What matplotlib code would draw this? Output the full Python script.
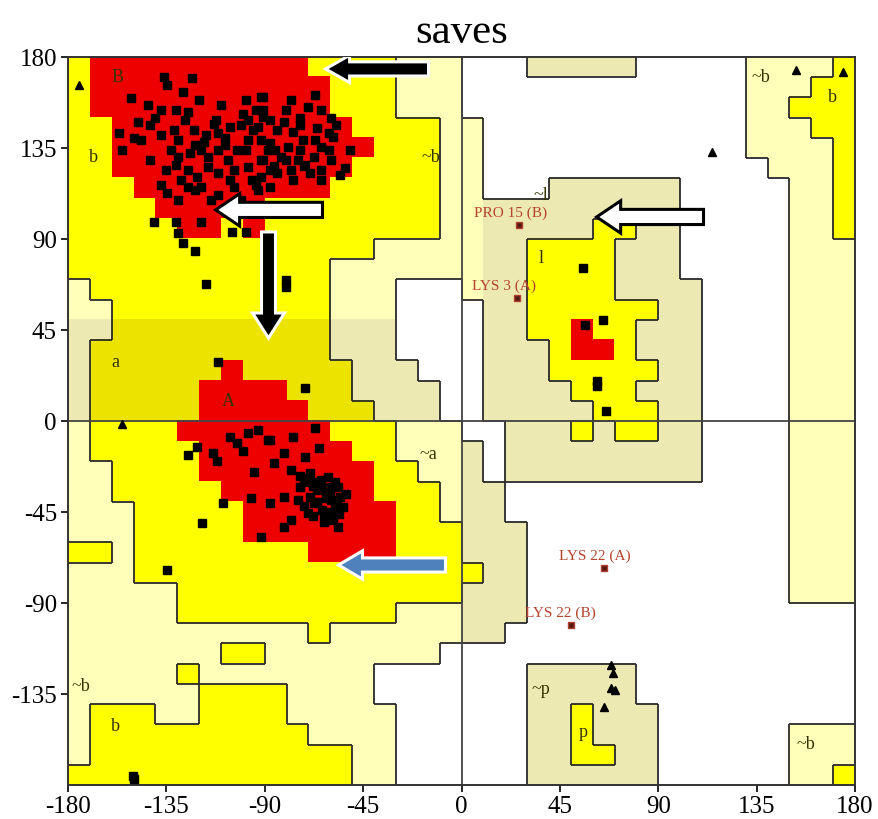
import matplotlib
matplotlib.use("Agg")
import matplotlib.pyplot as plt
import numpy as np
from matplotlib.colors import ListedColormap
from matplotlib.collections import LineCollection
from matplotlib.patches import FancyArrow

plt.rcParams['font.family'] = ['Liberation Serif', 'DejaVu Serif']
plt.rcParams['axes.unicode_minus'] = False

# region map, 10 degree cells; rows from psi=180 (top) down, columns from phi=-180
# R core, Y allowed, D allowed (darker tint), C generous, K generous (khaki tint), W disallowed
regions = [
    "YRRRRRRRRRRYYYYCCC" + "WWWKKKKKWWWWWCCCCY",
    "YRRRRRRRRRRRYYYCCC" + "WWWWWWWWWWWWWCCCYY",
    "YRRRRRRRRRRRYYYCCC" + "WWWWWWWWWWWWWCCYYY",
    "YYRRRRRRRRRRRYYYYC" + "CWWWWWWWWWWWWCCCYY",
    "YYRRRRRRRRRRRRYYYC" + "CWWWWWWWWWWWWCCCCY",
    "YYRRRRRRRRRRRYYYYC" + "CWWWWWWWWWWWWWCCCY",
    "YYYRRRRRRRRRYYYYYC" + "CWWWKKKKKKWWWWWCCY",
    "YYYYRRRRRYYYYYYYYC" + "CKKKKKKKKKWWWWWCCY",
    "YYYYYRRYRYYYYYYYYC" + "CKKKKKYYKKWWWWWCCY",
    "YYYYYYYYYYYYYYCCCC" + "CKKYYYYKKKWWWWWCCC",
    "YYYYYYYYYYYYCCCCCC" + "CKKYYYYKKKWWWWWCCC",
    "CYYYYYYYYYYYCCCWWW" + "CKKYYYYKKKKWWWWCCC",
    "CCYYYYYYYYYYCCCWWW" + "WKKYYYYYYKKWWWWCCC",
    "KKDDDDDDDDDDKKKWWW" + "WKKYYRYYKKKWWWWCCC",
    "KDDDDDDDDDDDKKKWWW" + "WKKKYRRYKKKWWWWCCC",
    "KDDDDDDRDDDDDKKKWW" + "WKKKYYYYYKKWWWWCCC",
    "KDDDDDRRRRDDDKKKKW" + "WKKKKYYYKKKWWWWCCC",
    "KDDDDDRRRRRDDDKKKW" + "WKKKKKYYYKKWWWWCCC",
    "CYYYYRRRRRRRYYYCCC" + "WWKKKYKYYKKWWWWCCC",
    "CYYYYYRRRRRRRYYCCC" + "KWKKKKKKKKKWWWWCCC",
    "CCYYYYRRRRRRRRYYCC" + "KWKKKKKKKKKWWWWCCC",
    "CCYYYYYRRRRRRRYYYC" + "KKWWWWWWWWWWWWWCCC",
    "CCCYYYYYRRRRRRRYYC" + "KKWWWWWWWWWWWWWCCC",
    "CCCYYYYYRRRRRRRYYY" + "KKKWWWWWWWWWWWWCCC",
    "YYCYYYYYYYYRRRRYYY" + "KKKWWWWWWWWWWWWCCC",
    "CCCYYYYYYYYYYYYYYY" + "YKKWWWWWWWWWWWWCCC",
    "CCCCCYYYYYYYYYYYYY" + "KKKWWWWWWWWWWWWCCC",
    "CCCCCYYYYYYYYYYCCC" + "KKKWWWWWWWWWWWWWWW",
    "CCCCCCCCCCCYCCCCCC" + "KKWWWWWWWWWWWWWWWW",
    "CCCCCCCYYCCCCCCCCW" + "WWWWWWWWWWWWWWWWWW",
    "CCCCCYCCCCCCCCWWWW" + "WWWKKKKKWWWWWWWWWW",
    "CCCCCCYYYYCCCCWWWW" + "WWWKKKKKWWWWWWWWWW",
    "CYYYCCYYYYCCCCCWWW" + "WWWKKYKKKWWWWWWWWW",
    "CYYYYYYYYYYCCCCWWW" + "WWWKKYKKKWWWWWWCCC",
    "CYYYYYYYYYYYYCCWWW" + "WWWKKYYKKWWWWWWCCC",
    "YYYYYYYYYYYYYCCWWW" + "WWWKKKKKKWWWWWWCCY",
]
codes = "WCKDYR"
region_colors = ['#FFFFFF', '#FFFFBA', '#EDE9B2', '#ECE400', '#FFFF00', '#EE0000']
levels = {'W': 0, 'C': 1, 'K': 1, 'D': 2, 'Y': 2, 'R': 3}

# residues in core regions (phi, psi)
core_phi = [-136.3, -123.1, -134.5, -127.6, -151.4, -120.3, -143.6, -110.2, -137.7, -91.9,
            -130.8, -124.9, -148.2, -156.9, -150.0, -155.1, -137.7, -131.7, -129.9, -122.6,
            -129.5, -124.0, -119.4, -116.2, -111.6, -107.0, -102.5, -97.9, -95.2, -90.6,
            -97.9, -105.7, -111.6, -125.3, -120.8, -116.2, -111.6, -104.3, -97.9, -91.9,
            -88.7, -134.5, -129.9, -125.3, -119.4, -111.2, -104.3, -140.9, -130.8, -129.9,
            -119.4, -104.8, -91.0, -78.2, -66.8, -70.0, -90.6, -81.4, -73.7, -59.9,
            -93.3, -84.2, -76.9, -65.9, -60.8, -87.4, -79.6, -72.3, -64.5, -58.6,
            -90.6, -82.8, -75.0, -67.7, -60.8, -53.1, -91.9, -84.2, -76.9, -69.1,
            -64.5, -87.4, -93.3, -88.7, -117.1, -80.1, -80.1, -111.6, -71.8, -98.4,
            -127.6, -121.7, -113.0, -100.0, -86.0, -72.0, -118.0, -108.0, -96.0, -140.0,
            -142.3, -135.4, -128.5, -121.7, -114.8, -108.0, -101.1, -94.2, -87.4, -80.5,
            -73.7, -66.8, -59.9, -55.4, -50.8, -142.3, -146.8, -133.1, -126.3, -117.1,
            -108.0, -101.1, -94.2, -87.4, -80.5, -73.7, -64.5, -57.6, -137.7, -130.8,
            -121.7, -112.5, -105.7, -98.8, -91.9, -85.1, -78.2, -71.4, -64.5, -98.8,
            -125.3, -120.8, -113.9, -108.9, -96.5, -118.5, -91.9, -134.5, -105.7, -97.9,
            -88.7, -102.5, -66.8, -76.9, -87.4, -93.3, -65.4, -71.4, -81.4, -86.0,
            -78.2, -69.1, -61.3, -56.7, -65.9, -73.7, -81.4, -87.4, -75.0, -67.7,
            -59.9, -55.4, -63.1, -70.4, -78.2, -81.4, -58.6, -56.7, -64.5, -59.9,
            -69.1, -54.0, -62.0, -66.0, -58.0, -60.0, -64.0, -68.0, -56.0, -72.0,
            -62.0, -58.0, -66.0, -61.0, -62.0, -60.0, -66.0, -70.0, -74.0, -57.0,
            -53.0, -63.0, -68.0, -72.0, -112.0, -100.0, -95.0, -150.5, -149.6]
core_psi = [170.1, 169.6, 166.2, 162.7, 159.7, 158.8, 156.3, 156.3, 153.8, 160.2,
            153.8, 152.8, 147.9, 142.4, 140.0, 134.0, 141.4, 143.9, 139.0, 143.9,
            130.6, 132.5, 134.0, 130.6, 134.0, 129.1, 134.0, 139.0, 143.9, 150.3,
            148.9, 145.4, 142.4, 124.1, 120.7, 125.6, 122.7, 124.1, 125.6, 129.1,
            134.0, 112.8, 109.3, 115.7, 115.7, 111.8, 115.7, 98.4, 98.4, 93.0,
            98.4, 93.5, 160.2, 158.8, 161.2, 155.3, 153.8, 147.9, 149.9, 149.9,
            145.4, 143.9, 142.9, 144.9, 142.4, 137.5, 135.5, 139.0, 135.5, 140.5,
            129.1, 130.6, 129.1, 130.6, 134.0, 125.1, 120.7, 122.7, 119.2, 122.7,
            119.2, 115.7, 114.2, 91.0, 67.8, 69.7, 66.3, 29.2, 16.3, 93.5,
            88.0, 84.1, 147.0, 152.0, 126.0, 126.0, 138.0, 140.0, 119.0, 150.0,
            129.1, 124.1, 119.2, 114.2, 109.3, 104.4, 109.3, 116.7, 124.1, 129.1,
            134.0, 139.0, 129.1, 121.7, 134.0, 146.4, 139.0, 134.0, 148.9, 141.4,
            136.5, 146.4, 153.8, 148.9, 153.8, 146.4, 153.8, 146.4, 116.7, 126.6,
            136.5, 148.9, 119.2, 134.0, 139.0, 134.0, 124.1, 126.6, 124.1, 158.8,
            -16.8, -12.9, -15.8, -40.6, -38.1, -50.4, -57.4, -73.7, -7.9, -5.9,
            -9.4, -10.9, -3.5, -7.9, -9.4, -4.5, -13.4, -17.8, -15.8, -20.8,
            -24.2, -25.7, -27.7, -32.6, -34.1, -32.6, -37.6, -40.6, -39.1, -40.6,
            -39.1, -37.6, -45.5, -45.5, -49.0, -52.4, -49.0, -52.4, -29.2, -32.6,
            -37.6, -42.5, -38.0, -30.0, -42.0, -36.0, -44.0, -32.0, -46.0, -28.0,
            -34.0, -30.0, -40.0, -47.0, -33.0, -45.0, -40.0, -30.0, -27.0, -40.0,
            -36.0, -50.0, -47.0, -42.0, -20.0, -15.0, -25.0, -175.6, -177.0]

# other non-glycine residues
other_phi = [55.4, 56.3, 64.5, 61.8, 62.2, 66.3]
other_psi = [75.7, 47.5, 50.0, 19.8, 17.3, 4.9]

# flagged residues
flag_names = ["PRO 15 (B)", "LYS 3 (A)", "LYS 22 (A)", "LYS 22 (B)"]
flag_phi = [26.5, 25.6, 65.4, 49.9]
flag_psi = [96.9, 60.8, -72.7, -100.9]

# glycines
gly_phi = [-175.2, -155.1, 153.2, 174.7, 114.4, 68.6, 69.1, 68.2, 70.0, 65.4]
gly_psi = [166.2, -1.5, 173.6, 172.6, 133.0, -120.7, -124.6, -132.0, -133.0, -141.4]

# region labels
region_labels = ["B", "b", "~b", "~l", "l", "a", "A", "~a", "~b", "b", "~p", "p", "~b", "b", "~b"]
label_phi = [-157.4, -168.3, -14.2, 36.1, 36.6, -158.3, -106.6, -15.1, 136.8, 169.7,
             36.1, 55.8, -174.3, -158.3, 157.4]
label_psi = [170.1, 130.1, 130.1, 111.3, 80.6, 28.7, 9.4, -16.8, 170.1, 160.2,
             -133.0, -153.8, -131.1, -151.3, -160.2]

ticks = [-180, -135, -90, -45, 0, 45, 90, 135, 180]

fig = plt.figure(figsize=(8.79, 8.19), dpi=100)
ax = fig.add_axes([0.0774, 0.0415, 0.8953, 0.8889])

grid = np.array([[codes.index(ch) for ch in row] for row in regions])
ax.imshow(grid, cmap=ListedColormap(region_colors), vmin=-0.5, vmax=5.5,
          extent=[-180, 180, -180, 180], aspect='auto', interpolation='nearest', zorder=0)

# boundary lines between allowed / generous / disallowed regions
lev = np.vectorize(lambda k: levels[codes[k]])(grid)
segs = []
n = len(regions)
for r in range(n):
    for c in range(n):
        if c + 1 < n:
            a, b = lev[r, c], lev[r, c + 1]
            if a != b and min(a, b) < 2:
                x = -180 + 10 * (c + 1)
                segs.append([(x, 180 - 10 * (r + 1)), (x, 180 - 10 * r)])
        if r + 1 < n:
            a, b = lev[r, c], lev[r + 1, c]
            if a != b and min(a, b) < 2:
                y = 180 - 10 * (r + 1)
                segs.append([(-180 + 10 * c, y), (-170 + 10 * c, y)])
ax.add_collection(LineCollection(segs, colors='#2a2a2a', linewidths=1.3, zorder=1))

ax.axhline(0, color='#444444', lw=1.3, zorder=1)
ax.axvline(0, color='#444444', lw=1.3, zorder=1)

ax.plot(core_phi, core_psi, 's', color='black', ms=5.8, zorder=3)
ax.plot(other_phi, other_psi, 's', color='black', ms=5.8, zorder=3)
ax.plot(flag_phi, flag_psi, 's', color='#5a1a10', mec='#b04030', ms=5, zorder=3)
ax.plot(gly_phi, gly_psi, '^', color='black', ms=5.5, zorder=3)

for name, x, y in zip(flag_names, flag_phi, flag_psi):
    ax.text(x - 21, y + 6, name, color='#b5442e', fontsize=11, va='center', zorder=4)

for lab, x, y in zip(region_labels, label_phi, label_psi):
    ax.text(x, y, lab, color='#333300', fontsize=13, ha='center', va='center', zorder=2)

# annotation arrows
arrows = [
    (-15.1, 174.1, -47.1, 0, 7, 13.5, 11, 'black', 'white'),
    (-63.6, 104.4, -48.9, 0, 7.5, 16, 11, 'white', 'black'),
    (-88.3, 93.5, 0, -52.5, 6.4, 14.6, 12.4, 'black', 'white'),
    (110.7, 100.9, -48.9, 0, 7.5, 16, 11, 'white', 'black'),
    (-7.3, -71.2, -49.0, 0, 7, 14, 11, '#4f81bd', 'white'),
]
for x, y, dx, dy, w, hw, hl, fc, ec in arrows:
    ax.add_patch(FancyArrow(x, y, dx, dy, width=w, head_width=hw, head_length=hl,
                            length_includes_head=True, fc=fc, ec=ec, lw=2.2, zorder=5))

ax.set_xlim(-180, 180)
ax.set_ylim(-180, 180)
ax.set_xticks(ticks)
ax.set_yticks(ticks[1:])
ax.tick_params(axis='both', labelsize=18, direction='out', length=5, width=1.2, pad=3)
for s in ax.spines.values():
    s.set_linewidth(1.4)
    s.set_color('#333333')
ax.set_title("saves", fontsize=31, pad=10)

fig.savefig("out.png", dpi=100)
